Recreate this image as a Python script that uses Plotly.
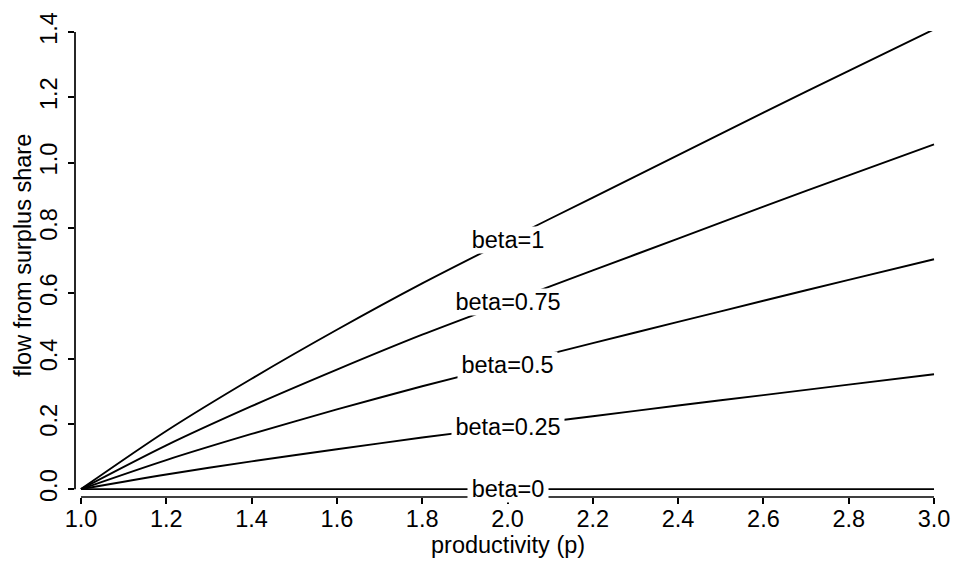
import plotly.graph_objects as go

# productivity grid
p = [1.0, 1.2, 1.4, 1.6, 1.8, 2.0, 2.2, 2.4, 2.6, 2.8, 3.0]

# flow from surplus share for each beta
flow_b1 = [0.000, 0.178, 0.338, 0.488, 0.630, 0.763, 0.893, 1.023, 1.153, 1.281, 1.408]
flow_b075 = [0.000, 0.134, 0.254, 0.366, 0.473, 0.572, 0.670, 0.767, 0.865, 0.961, 1.056]
flow_b05 = [0.000, 0.089, 0.169, 0.244, 0.315, 0.381, 0.447, 0.512, 0.577, 0.641, 0.704]
flow_b025 = [0.000, 0.045, 0.085, 0.122, 0.158, 0.191, 0.223, 0.256, 0.288, 0.320, 0.352]
flow_b0 = [0.0] * 11

series = [
    ("beta=1", flow_b1, 80),
    ("beta=0.75", flow_b075, 112),
    ("beta=0.5", flow_b05, 99),
    ("beta=0.25", flow_b025, 112),
    ("beta=0", flow_b0, 80),
]

x_ticks = [1.0, 1.2, 1.4, 1.6, 1.8, 2.0, 2.2, 2.4, 2.6, 2.8, 3.0]
x_tick_text = ["1.0", "1.2", "1.4", "1.6", "1.8", "2.0", "2.2", "2.4", "2.6", "2.8", "3.0"]
y_ticks = [0.0, 0.2, 0.4, 0.6, 0.8, 1.0, 1.2, 1.4]
y_tick_text = ["0.0", "0.2", "0.4", "0.6", "0.8", "1.0", "1.2", "1.4"]

label_p = 2.0
FONT = "Liberation Sans, Arial, sans-serif"
FS = 23.5

fig = go.Figure()
for name, vals, w in series:
    fig.add_trace(go.Scatter(x=p, y=vals, mode="lines", name=name,
                             line=dict(color="black", width=1.9, shape="spline", smoothing=0.8),
                             showlegend=False, hoverinfo="skip"))

annotations = []
for name, vals, w in series:
    annotations.append(dict(
        x=label_p, y=vals[p.index(label_p)], xref="x", yref="y",
        text=name, showarrow=False, bgcolor="white", borderpad=0,
        width=w, height=26, xanchor="center", yanchor="middle",
        font=dict(family=FONT, size=FS, color="black")))

# axis titles
annotations.append(dict(x=2.0, xref="x", y=0, yref="paper", yshift=-48,
                        text="productivity (p)", showarrow=False,
                        xanchor="center", yanchor="middle",
                        font=dict(family=FONT, size=FS, color="black")))
annotations.append(dict(x=0, xref="paper", y=0.715, yref="y", xshift=-52,
                        text="flow from surplus share", showarrow=False, textangle=-90,
                        xanchor="center", yanchor="middle",
                        font=dict(family=FONT, size=FS, color="black")))

shapes = [
    dict(type="line", xref="x", yref="paper", x0=1.0, x1=3.0, y0=0, y1=0,
         line=dict(color="black", width=1.7), layer="above"),
    dict(type="line", xref="paper", yref="y", x0=0, x1=0, y0=0.0, y1=1.4,
         line=dict(color="black", width=1.7), layer="above"),
]

fig.update_layout(
    width=962, height=563,
    margin=dict(l=75, r=19, t=24, b=66, pad=0),
    paper_bgcolor="white", plot_bgcolor="white",
    font=dict(family=FONT, size=FS, color="black"),
    annotations=annotations, shapes=shapes,
    xaxis=dict(range=[0.986, 3.0023], showgrid=False, zeroline=False, showline=False,
               tickmode="array", tickvals=x_ticks, ticktext=x_tick_text,
               ticks="outside", ticklen=6, tickwidth=1.7, tickcolor="black",
               ticklabelstandoff=-5,
               tickfont=dict(family=FONT, size=FS, color="black")),
    yaxis=dict(range=[-0.0241, 1.403], showgrid=False, zeroline=False, showline=False,
               tickmode="array", tickvals=y_ticks, ticktext=y_tick_text,
               ticks="outside", ticklen=6, tickwidth=1.7, tickcolor="black",
               tickangle=-90, ticklabelstandoff=2,
               tickfont=dict(family=FONT, size=FS, color="black")),
)

fig.write_html("out.html", config={"displayModeBar": False},
               post_script="document.body.style.margin='0';document.body.style.padding='0';")
